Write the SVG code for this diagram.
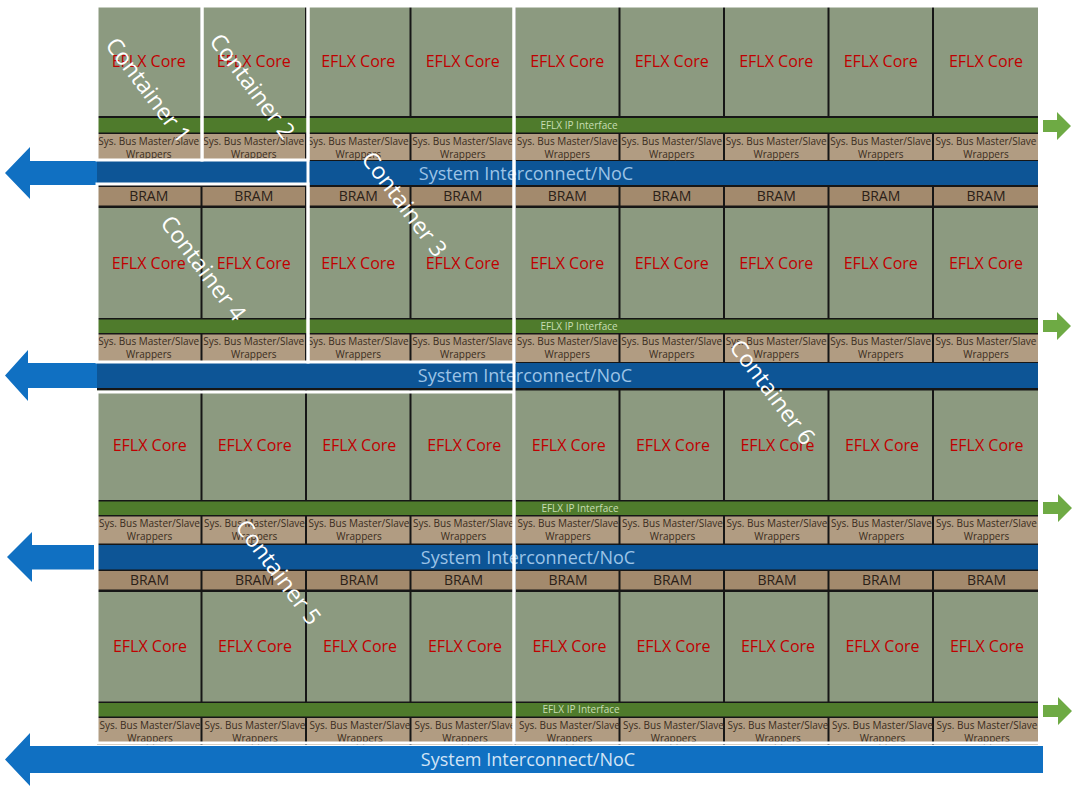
<svg xmlns="http://www.w3.org/2000/svg" width="1080" height="789" viewBox="0 0 1080 789">
<style>
.core{fill:#8c9a80}
.grn{fill:#4f7b2c}
.wrap{fill:#b19c82}
.bram{fill:#a38a6d}
.noc{fill:#0d5596}
text{font-family:"Open Sans","DejaVu Sans",sans-serif;text-anchor:middle}
.ct{font-size:16px;fill:#c00000}
.wt{font-size:10px;fill:#3a2c20}
.bt{font-size:14px;fill:#2b2118}
.gt{font-size:10px;fill:#c8deb4}
.nt{font-size:18px;fill:#9cc3e6}
.ntb{font-size:18px;fill:#d2e4f6}
.cont{fill:none;stroke:#ffffff;stroke-width:3}
.cl{font-size:23px;fill:#ffffff}
.la{fill:#1070c2}
.ra{fill:#6eaa44}
</style>
<rect x="0" y="0" width="1080" height="789" fill="#ffffff"/>
<rect x="97" y="6" width="941" height="739" fill="#161616"/>

<!-- Block A -->
<g id="core-a">
<g id="core-a1"><rect class="core" x="97" y="6" width="103.5" height="110"/><text class="ct" x="148.75" y="66.5">EFLX Core</text></g>
<g id="core-a2"><rect class="core" x="202.5" y="6" width="102.5" height="110"/><text class="ct" x="253.75" y="66.5">EFLX Core</text></g>
<g id="core-a3"><rect class="core" x="307" y="6" width="102.5" height="110"/><text class="ct" x="358.25" y="66.5">EFLX Core</text></g>
<g id="core-a4"><rect class="core" x="411.5" y="6" width="102.5" height="110"/><text class="ct" x="462.75" y="66.5">EFLX Core</text></g>
<g id="core-a5"><rect class="core" x="516" y="6" width="102.5" height="110"/><text class="ct" x="567.25" y="66.5">EFLX Core</text></g>
<g id="core-a6"><rect class="core" x="620.5" y="6" width="102.5" height="110"/><text class="ct" x="671.75" y="66.5">EFLX Core</text></g>
<g id="core-a7"><rect class="core" x="725" y="6" width="102.5" height="110"/><text class="ct" x="776.25" y="66.5">EFLX Core</text></g>
<g id="core-a8"><rect class="core" x="829.5" y="6" width="102.5" height="110"/><text class="ct" x="880.75" y="66.5">EFLX Core</text></g>
<g id="core-a9"><rect class="core" x="934" y="6" width="104" height="110"/><text class="ct" x="986" y="66.5">EFLX Core</text></g>
</g>
<g id="ipif-a"><rect class="grn" x="97" y="118" width="941" height="14.5"/><text class="gt" x="579" y="128.8">EFLX IP Interface</text></g>
<g id="wrap-a">
<g id="wrap-a1"><rect class="wrap" x="97" y="134" width="103.5" height="26"/><text class="wt" x="148.75" y="144.5">Sys. Bus Master/Slave</text><text class="wt" x="148.75" y="157.5">Wrappers</text></g>
<g id="wrap-a2"><rect class="wrap" x="202.5" y="134" width="102.5" height="26"/><text class="wt" x="253.75" y="144.5">Sys. Bus Master/Slave</text><text class="wt" x="253.75" y="157.5">Wrappers</text></g>
<g id="wrap-a3"><rect class="wrap" x="307" y="134" width="102.5" height="26"/><text class="wt" x="358.25" y="144.5">Sys. Bus Master/Slave</text><text class="wt" x="358.25" y="157.5">Wrappers</text></g>
<g id="wrap-a4"><rect class="wrap" x="411.5" y="134" width="102.5" height="26"/><text class="wt" x="462.75" y="144.5">Sys. Bus Master/Slave</text><text class="wt" x="462.75" y="157.5">Wrappers</text></g>
<g id="wrap-a5"><rect class="wrap" x="516" y="134" width="102.5" height="26"/><text class="wt" x="567.25" y="144.5">Sys. Bus Master/Slave</text><text class="wt" x="567.25" y="157.5">Wrappers</text></g>
<g id="wrap-a6"><rect class="wrap" x="620.5" y="134" width="102.5" height="26"/><text class="wt" x="671.75" y="144.5">Sys. Bus Master/Slave</text><text class="wt" x="671.75" y="157.5">Wrappers</text></g>
<g id="wrap-a7"><rect class="wrap" x="725" y="134" width="102.5" height="26"/><text class="wt" x="776.25" y="144.5">Sys. Bus Master/Slave</text><text class="wt" x="776.25" y="157.5">Wrappers</text></g>
<g id="wrap-a8"><rect class="wrap" x="829.5" y="134" width="102.5" height="26"/><text class="wt" x="880.75" y="144.5">Sys. Bus Master/Slave</text><text class="wt" x="880.75" y="157.5">Wrappers</text></g>
<g id="wrap-a9"><rect class="wrap" x="934" y="134" width="104" height="26"/><text class="wt" x="986" y="144.5">Sys. Bus Master/Slave</text><text class="wt" x="986" y="157.5">Wrappers</text></g>
</g>
<g id="noc-a"><rect class="noc" x="97" y="161" width="941" height="24"/><text class="nt" x="526" y="179.5">System Interconnect/NoC</text></g>
<g id="bram-a">
<g id="bram-a1"><rect class="bram" x="97" y="187" width="103.5" height="18.5"/><text class="bt" x="148.75" y="201.3">BRAM</text></g>
<g id="bram-a2"><rect class="bram" x="202.5" y="187" width="102.5" height="18.5"/><text class="bt" x="253.75" y="201.3">BRAM</text></g>
<g id="bram-a3"><rect class="bram" x="307" y="187" width="102.5" height="18.5"/><text class="bt" x="358.25" y="201.3">BRAM</text></g>
<g id="bram-a4"><rect class="bram" x="411.5" y="187" width="102.5" height="18.5"/><text class="bt" x="462.75" y="201.3">BRAM</text></g>
<g id="bram-a5"><rect class="bram" x="516" y="187" width="102.5" height="18.5"/><text class="bt" x="567.25" y="201.3">BRAM</text></g>
<g id="bram-a6"><rect class="bram" x="620.5" y="187" width="102.5" height="18.5"/><text class="bt" x="671.75" y="201.3">BRAM</text></g>
<g id="bram-a7"><rect class="bram" x="725" y="187" width="102.5" height="18.5"/><text class="bt" x="776.25" y="201.3">BRAM</text></g>
<g id="bram-a8"><rect class="bram" x="829.5" y="187" width="102.5" height="18.5"/><text class="bt" x="880.75" y="201.3">BRAM</text></g>
<g id="bram-a9"><rect class="bram" x="934" y="187" width="104" height="18.5"/><text class="bt" x="986" y="201.3">BRAM</text></g>
</g>

<!-- Block B -->
<g id="core-b">
<g id="core-b1"><rect class="core" x="97" y="208" width="103.5" height="110"/><text class="ct" x="148.75" y="268.5">EFLX Core</text></g>
<g id="core-b2"><rect class="core" x="202.5" y="208" width="102.5" height="110"/><text class="ct" x="253.75" y="268.5">EFLX Core</text></g>
<g id="core-b3"><rect class="core" x="307" y="208" width="102.5" height="110"/><text class="ct" x="358.25" y="268.5">EFLX Core</text></g>
<g id="core-b4"><rect class="core" x="411.5" y="208" width="102.5" height="110"/><text class="ct" x="462.75" y="268.5">EFLX Core</text></g>
<g id="core-b5"><rect class="core" x="516" y="208" width="102.5" height="110"/><text class="ct" x="567.25" y="268.5">EFLX Core</text></g>
<g id="core-b6"><rect class="core" x="620.5" y="208" width="102.5" height="110"/><text class="ct" x="671.75" y="268.5">EFLX Core</text></g>
<g id="core-b7"><rect class="core" x="725" y="208" width="102.5" height="110"/><text class="ct" x="776.25" y="268.5">EFLX Core</text></g>
<g id="core-b8"><rect class="core" x="829.5" y="208" width="102.5" height="110"/><text class="ct" x="880.75" y="268.5">EFLX Core</text></g>
<g id="core-b9"><rect class="core" x="934" y="208" width="104" height="110"/><text class="ct" x="986" y="268.5">EFLX Core</text></g>
</g>
<g id="ipif-b"><rect class="grn" x="97" y="319.5" width="941" height="13.5"/><text class="gt" x="579" y="329.8">EFLX IP Interface</text></g>
<g id="wrap-b">
<g id="wrap-b1"><rect class="wrap" x="97" y="334.5" width="103.5" height="27.5"/><text class="wt" x="148.75" y="345">Sys. Bus Master/Slave</text><text class="wt" x="148.75" y="358">Wrappers</text></g>
<g id="wrap-b2"><rect class="wrap" x="202.5" y="334.5" width="102.5" height="27.5"/><text class="wt" x="253.75" y="345">Sys. Bus Master/Slave</text><text class="wt" x="253.75" y="358">Wrappers</text></g>
<g id="wrap-b3"><rect class="wrap" x="307" y="334.5" width="102.5" height="27.5"/><text class="wt" x="358.25" y="345">Sys. Bus Master/Slave</text><text class="wt" x="358.25" y="358">Wrappers</text></g>
<g id="wrap-b4"><rect class="wrap" x="411.5" y="334.5" width="102.5" height="27.5"/><text class="wt" x="462.75" y="345">Sys. Bus Master/Slave</text><text class="wt" x="462.75" y="358">Wrappers</text></g>
<g id="wrap-b5"><rect class="wrap" x="516" y="334.5" width="102.5" height="27.5"/><text class="wt" x="567.25" y="345">Sys. Bus Master/Slave</text><text class="wt" x="567.25" y="358">Wrappers</text></g>
<g id="wrap-b6"><rect class="wrap" x="620.5" y="334.5" width="102.5" height="27.5"/><text class="wt" x="671.75" y="345">Sys. Bus Master/Slave</text><text class="wt" x="671.75" y="358">Wrappers</text></g>
<g id="wrap-b7"><rect class="wrap" x="725" y="334.5" width="102.5" height="27.5"/><text class="wt" x="776.25" y="345">Sys. Bus Master/Slave</text><text class="wt" x="776.25" y="358">Wrappers</text></g>
<g id="wrap-b8"><rect class="wrap" x="829.5" y="334.5" width="102.5" height="27.5"/><text class="wt" x="880.75" y="345">Sys. Bus Master/Slave</text><text class="wt" x="880.75" y="358">Wrappers</text></g>
<g id="wrap-b9"><rect class="wrap" x="934" y="334.5" width="104" height="27.5"/><text class="wt" x="986" y="345">Sys. Bus Master/Slave</text><text class="wt" x="986" y="358">Wrappers</text></g>
</g>
<g id="noc-b"><rect class="noc" x="97" y="363" width="941" height="25"/><text class="nt" x="525" y="382">System Interconnect/NoC</text></g>

<!-- Block C -->
<g id="core-c">
<g id="core-c1"><rect class="core" x="97" y="390.5" width="103.5" height="109.5"/><text class="ct" x="149.75" y="450.8">EFLX Core</text></g>
<g id="core-c2"><rect class="core" x="202.5" y="390.5" width="102.5" height="109.5"/><text class="ct" x="254.75" y="450.8">EFLX Core</text></g>
<g id="core-c3"><rect class="core" x="307" y="390.5" width="102.5" height="109.5"/><text class="ct" x="359.25" y="450.8">EFLX Core</text></g>
<g id="core-c4"><rect class="core" x="411.5" y="390.5" width="102.5" height="109.5"/><text class="ct" x="464.25" y="450.8">EFLX Core</text></g>
<g id="core-c5"><rect class="core" x="516" y="390.5" width="102.5" height="109.5"/><text class="ct" x="568.75" y="450.8">EFLX Core</text></g>
<g id="core-c6"><rect class="core" x="620.5" y="390.5" width="102.5" height="109.5"/><text class="ct" x="673" y="450.8">EFLX Core</text></g>
<g id="core-c7"><rect class="core" x="725" y="390.5" width="102.5" height="109.5"/><text class="ct" x="777.5" y="450.8">EFLX Core</text></g>
<g id="core-c8"><rect class="core" x="829.5" y="390.5" width="102.5" height="109.5"/><text class="ct" x="882" y="450.8">EFLX Core</text></g>
<g id="core-c9"><rect class="core" x="934" y="390.5" width="104" height="109.5"/><text class="ct" x="986.5" y="450.8">EFLX Core</text></g>
</g>
<g id="ipif-c"><rect class="grn" x="97" y="501.5" width="941" height="13.5"/><text class="gt" x="580" y="511.8">EFLX IP Interface</text></g>
<g id="wrap-c">
<g id="wrap-c1"><rect class="wrap" x="97" y="516.5" width="103.5" height="27"/><text class="wt" x="149.5" y="527">Sys. Bus Master/Slave</text><text class="wt" x="149.5" y="540">Wrappers</text></g>
<g id="wrap-c2"><rect class="wrap" x="202.5" y="516.5" width="102.5" height="27"/><text class="wt" x="254.5" y="527">Sys. Bus Master/Slave</text><text class="wt" x="254.5" y="540">Wrappers</text></g>
<g id="wrap-c3"><rect class="wrap" x="307" y="516.5" width="102.5" height="27"/><text class="wt" x="359" y="527">Sys. Bus Master/Slave</text><text class="wt" x="359" y="540">Wrappers</text></g>
<g id="wrap-c4"><rect class="wrap" x="411.5" y="516.5" width="102.5" height="27"/><text class="wt" x="463.5" y="527">Sys. Bus Master/Slave</text><text class="wt" x="463.5" y="540">Wrappers</text></g>
<g id="wrap-c5"><rect class="wrap" x="516" y="516.5" width="102.5" height="27"/><text class="wt" x="568" y="527">Sys. Bus Master/Slave</text><text class="wt" x="568" y="540">Wrappers</text></g>
<g id="wrap-c6"><rect class="wrap" x="620.5" y="516.5" width="102.5" height="27"/><text class="wt" x="672.5" y="527">Sys. Bus Master/Slave</text><text class="wt" x="672.5" y="540">Wrappers</text></g>
<g id="wrap-c7"><rect class="wrap" x="725" y="516.5" width="102.5" height="27"/><text class="wt" x="777" y="527">Sys. Bus Master/Slave</text><text class="wt" x="777" y="540">Wrappers</text></g>
<g id="wrap-c8"><rect class="wrap" x="829.5" y="516.5" width="102.5" height="27"/><text class="wt" x="881.5" y="527">Sys. Bus Master/Slave</text><text class="wt" x="881.5" y="540">Wrappers</text></g>
<g id="wrap-c9"><rect class="wrap" x="934" y="516.5" width="104" height="27"/><text class="wt" x="986.5" y="527">Sys. Bus Master/Slave</text><text class="wt" x="986.5" y="540">Wrappers</text></g>
</g>
<g id="noc-c"><rect class="noc" x="97" y="545" width="941" height="24.5"/><text class="nt" x="528" y="563.8">System Interconnect/NoC</text></g>
<g id="bram-c">
<g id="bram-c1"><rect class="bram" x="97" y="571" width="103.5" height="18.5"/><text class="bt" x="149.5" y="585.3">BRAM</text></g>
<g id="bram-c2"><rect class="bram" x="202.5" y="571" width="102.5" height="18.5"/><text class="bt" x="254.5" y="585.3">BRAM</text></g>
<g id="bram-c3"><rect class="bram" x="307" y="571" width="102.5" height="18.5"/><text class="bt" x="359" y="585.3">BRAM</text></g>
<g id="bram-c4"><rect class="bram" x="411.5" y="571" width="102.5" height="18.5"/><text class="bt" x="463.5" y="585.3">BRAM</text></g>
<g id="bram-c5"><rect class="bram" x="516" y="571" width="102.5" height="18.5"/><text class="bt" x="568" y="585.3">BRAM</text></g>
<g id="bram-c6"><rect class="bram" x="620.5" y="571" width="102.5" height="18.5"/><text class="bt" x="672.5" y="585.3">BRAM</text></g>
<g id="bram-c7"><rect class="bram" x="725" y="571" width="102.5" height="18.5"/><text class="bt" x="777" y="585.3">BRAM</text></g>
<g id="bram-c8"><rect class="bram" x="829.5" y="571" width="102.5" height="18.5"/><text class="bt" x="881.5" y="585.3">BRAM</text></g>
<g id="bram-c9"><rect class="bram" x="934" y="571" width="104" height="18.5"/><text class="bt" x="986.5" y="585.3">BRAM</text></g>
</g>

<!-- Block D -->
<g id="core-d">
<g id="core-d1"><rect class="core" x="97" y="592" width="103.5" height="109.5"/><text class="ct" x="150" y="652.3">EFLX Core</text></g>
<g id="core-d2"><rect class="core" x="202.5" y="592" width="102.5" height="109.5"/><text class="ct" x="255" y="652.3">EFLX Core</text></g>
<g id="core-d3"><rect class="core" x="307" y="592" width="102.5" height="109.5"/><text class="ct" x="360" y="652.3">EFLX Core</text></g>
<g id="core-d4"><rect class="core" x="411.5" y="592" width="102.5" height="109.5"/><text class="ct" x="465" y="652.3">EFLX Core</text></g>
<g id="core-d5"><rect class="core" x="516" y="592" width="102.5" height="109.5"/><text class="ct" x="569.5" y="652.3">EFLX Core</text></g>
<g id="core-d6"><rect class="core" x="620.5" y="592" width="102.5" height="109.5"/><text class="ct" x="673.5" y="652.3">EFLX Core</text></g>
<g id="core-d7"><rect class="core" x="725" y="592" width="102.5" height="109.5"/><text class="ct" x="778" y="652.3">EFLX Core</text></g>
<g id="core-d8"><rect class="core" x="829.5" y="592" width="102.5" height="109.5"/><text class="ct" x="882.5" y="652.3">EFLX Core</text></g>
<g id="core-d9"><rect class="core" x="934" y="592" width="104" height="109.5"/><text class="ct" x="987" y="652.3">EFLX Core</text></g>
</g>
<g id="ipif-d"><rect class="grn" x="97" y="703" width="941" height="13.5"/><text class="gt" x="581" y="713.3">EFLX IP Interface</text></g>
<g id="wrap-d">
<g id="wrap-d1"><rect class="wrap" x="97" y="718" width="103.5" height="27"/><text class="wt" x="150" y="728.5">Sys. Bus Master/Slave</text><text class="wt" x="150" y="741.5">Wrappers</text></g>
<g id="wrap-d2"><rect class="wrap" x="202.5" y="718" width="102.5" height="27"/><text class="wt" x="255" y="728.5">Sys. Bus Master/Slave</text><text class="wt" x="255" y="741.5">Wrappers</text></g>
<g id="wrap-d3"><rect class="wrap" x="307" y="718" width="102.5" height="27"/><text class="wt" x="360" y="728.5">Sys. Bus Master/Slave</text><text class="wt" x="360" y="741.5">Wrappers</text></g>
<g id="wrap-d4"><rect class="wrap" x="411.5" y="718" width="102.5" height="27"/><text class="wt" x="465" y="728.5">Sys. Bus Master/Slave</text><text class="wt" x="465" y="741.5">Wrappers</text></g>
<g id="wrap-d5"><rect class="wrap" x="516" y="718" width="102.5" height="27"/><text class="wt" x="569.5" y="728.5">Sys. Bus Master/Slave</text><text class="wt" x="569.5" y="741.5">Wrappers</text></g>
<g id="wrap-d6"><rect class="wrap" x="620.5" y="718" width="102.5" height="27"/><text class="wt" x="673.5" y="728.5">Sys. Bus Master/Slave</text><text class="wt" x="673.5" y="741.5">Wrappers</text></g>
<g id="wrap-d7"><rect class="wrap" x="725" y="718" width="102.5" height="27"/><text class="wt" x="778" y="728.5">Sys. Bus Master/Slave</text><text class="wt" x="778" y="741.5">Wrappers</text></g>
<g id="wrap-d8"><rect class="wrap" x="829.5" y="718" width="102.5" height="27"/><text class="wt" x="882.5" y="728.5">Sys. Bus Master/Slave</text><text class="wt" x="882.5" y="741.5">Wrappers</text></g>
<g id="wrap-d9"><rect class="wrap" x="934" y="718" width="104" height="27"/><text class="wt" x="987" y="728.5">Sys. Bus Master/Slave</text><text class="wt" x="987" y="741.5">Wrappers</text></g>
</g>

<!-- Connectors: arrows -->
<g id="connectors">
<path class="la" d="M97,161 H30 V147 L5,173 L30,199 V185 H97 Z"/>
<path class="la" d="M97,363 H28 V350 L5,375.5 L28,401 V388 H97 Z"/>
<path class="la" d="M94,545 H32 V532 L7,557 L32,582 V569.5 H94 Z"/>
<path class="la" d="M1043,746 H30 V733 L5,759.5 L30,786 V773 H1043 Z"/>
<path class="ra" d="M1043,120 H1057 V112 L1071,126 L1057,140 V132 H1043 Z"/>
<path class="ra" d="M1043,320 H1057 V312 L1071,326 L1057,340 V332 H1043 Z"/>
<path class="ra" d="M1043,502 H1058 V494 L1072,508 L1058,522 V514 H1043 Z"/>
<path class="ra" d="M1043,705 H1058 V697 L1072,711 L1058,725 V717 H1043 Z"/>
</g>
<g id="noc-d"><text class="ntb" x="528" y="766">System Interconnect/NoC</text></g>

<!-- Containers -->
<g id="container-1"><rect class="cont" x="97" y="6" width="105" height="154"/><text class="cl" x="142" y="95" transform="rotate(53 142 95)">Container 1</text></g>
<g id="container-2"><rect class="cont" x="202" y="6" width="106" height="154"/><text class="cl" x="246" y="91" transform="rotate(53 246 91)">Container 2</text></g>
<g id="container-3"><rect class="cont" x="308" y="6" width="206" height="356"/><text class="cl" x="398" y="209" transform="rotate(53 398 209)">Container 3</text></g>
<g id="container-4"><rect class="cont" x="97" y="184" width="211" height="178"/><text class="cl" x="197" y="273" transform="rotate(53 197 273)">Container 4</text></g>
<g id="container-5"><rect class="cont" x="97" y="392" width="417" height="351"/><text class="cl" x="272" y="577" transform="rotate(53 272 577)">Container 5</text></g>
<g id="container-6"><rect class="cont" x="514" y="6" width="526" height="737"/><text class="cl" x="766" y="397" transform="rotate(53 766 397)">Container 6</text></g>
</svg>
